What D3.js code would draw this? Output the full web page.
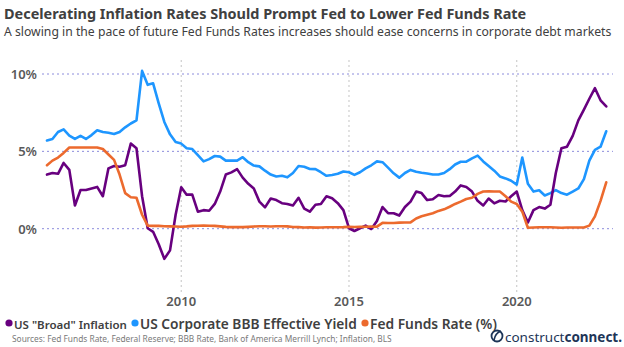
<!DOCTYPE html>
<html>
<head>
<meta charset="utf-8">
<script src="https://cdn.jsdelivr.net/npm/d3@7"></script>
<style>
  body { margin: 0; background: #fff; }
  svg { display: block; font-family: "Noto Sans", sans-serif; }
</style>
</head>
<body>
<div id="chart"></div>
<script>
// bi-monthly readings, Jan 2006 .. Sep 2022
const inflation = [
  3.5, 3.6, 3.55, 4.25, 3.8, 1.5,
  2.5, 2.5, 2.6, 2.7, 2.1, 3.9,
  4.05, 4.0, 4.1, 5.5, 5.2, 2.1,
  0.03, -0.2, -1.0, -1.95, -1.4, 0.9,
  2.68, 2.2, 2.2, 1.1, 1.2, 1.16,
  1.6, 2.4, 3.5, 3.64, 3.85, 3.3,
  2.9, 2.6, 1.75, 1.38, 1.95, 1.85,
  1.65, 1.6, 1.5, 2.0, 1.3, 1.1,
  1.55, 1.6, 2.1, 1.97, 1.65, 1.2,
  0.03, -0.15, 0.03, 0.2, -0.02, 0.5,
  1.4, 1.0, 1.0, 0.85, 1.4, 1.75,
  2.4, 2.3, 1.85, 1.9, 2.18, 2.1,
  2.12, 2.4, 2.8, 2.7, 2.4, 1.8,
  1.5, 1.95, 1.64, 1.81, 1.76, 2.1,
  2.4, 1.2, 0.4, 1.2, 1.4, 1.3,
  1.55, 3.6, 5.2, 5.3, 6.0, 7.0,
  7.7, 8.4, 9.08, 8.3, 7.9
];
const bbbYield = [
  5.7, 5.8, 6.25, 6.42, 6.02, 5.8,
  6.0, 5.8, 6.05, 6.36, 6.25, 6.2,
  6.12, 6.25, 6.55, 6.8, 7.0, 10.2,
  9.3, 9.4, 8.1, 6.9, 6.1, 5.6,
  5.5, 5.2, 5.15, 4.75, 4.35, 4.5,
  4.7, 4.66, 4.4, 4.4, 4.4, 4.62,
  4.3, 4.08, 4.03, 3.75, 3.5, 3.37,
  3.42, 3.32, 3.6, 4.05, 4.0, 3.86,
  3.85, 3.65, 3.42, 3.47, 3.55, 3.7,
  3.65, 3.48, 3.65, 3.9, 4.1, 4.35,
  4.3, 3.95, 3.58, 3.3, 3.6, 3.8,
  3.68, 3.62, 3.57, 3.5, 3.5, 3.6,
  3.85, 4.15, 4.33, 4.33, 4.55, 4.72,
  4.35, 4.05, 3.75, 3.38, 3.25, 3.1,
  2.85, 4.6, 2.9, 2.4, 2.48, 2.15,
  2.3, 2.5, 2.3, 2.2, 2.4, 2.6,
  3.2, 4.4, 5.1, 5.3, 6.3
];
const fedFunds = [
  4.1, 4.4, 4.6, 4.9, 5.25, 5.25,
  5.25, 5.25, 5.25, 5.25, 5.15, 4.8,
  4.45, 3.5, 2.3, 2.03, 2.0, 0.9,
  0.2, 0.18, 0.18, 0.16, 0.15, 0.14,
  0.13, 0.15, 0.18, 0.19, 0.2, 0.19,
  0.18, 0.15, 0.12, 0.1, 0.1, 0.1,
  0.12, 0.14, 0.16, 0.16, 0.14, 0.16,
  0.16, 0.15, 0.11, 0.1, 0.08, 0.09,
  0.07, 0.08, 0.09, 0.09, 0.09, 0.1,
  0.12, 0.11, 0.12, 0.13, 0.14, 0.13,
  0.38, 0.37, 0.37, 0.39, 0.4, 0.41,
  0.66, 0.8, 0.9, 1.0, 1.15, 1.25,
  1.42, 1.6, 1.75, 1.92, 2.0, 2.25,
  2.4, 2.42, 2.4, 2.4, 2.1, 1.75,
  1.6, 1.1, 0.06, 0.08, 0.09, 0.09,
  0.09, 0.08, 0.06, 0.08, 0.08, 0.08,
  0.08, 0.2, 0.8, 1.8, 3.0
];
const yTicks = [0, 5, 10];
const xTicks = [2010, 2015, 2020];
const seriesNames = ['US "Broad" Inflation', "US Corporate BBB Effective Yield", "Fed Funds Rate (%)"];
const seriesColors = ["#68007f", "#1e96ff", "#ec6a2e"];

const dates = d3.timeMonth.every(2).range(new Date(2006, 0, 1), new Date(2022, 9, 1));

const width = 624, height = 347;

let svg = d3.select("#chart").append("svg")
    .attr("width", width)
    .attr("height", height);

let x = d3.scaleTime()
    .domain([new Date(2006, 0, 1), new Date(2022, 9, 1)])
    .range([47, 609]);

let y = d3.scaleLinear()
    .domain([0, 10])
    .range([228.7, 74]);

// shrink/grow a text's font size so it spans w pixels
function fit(sel, w) {
    let fs = parseFloat(sel.attr("font-size"));
    let len = sel.node().getComputedTextLength();
    sel.attr("font-size", fs * w / len);
    return sel;
}

// title + subtitle
fit(svg.append("text")
    .attr("x", 4).attr("y", 19)
    .attr("font-size", 18).attr("font-weight", 700)
    .attr("fill", "#404040")
    .text("Decelerating Inflation Rates Should Prompt Fed to Lower Fed Funds Rate"), 523);

fit(svg.append("text")
    .attr("x", 4).attr("y", 36)
    .attr("font-size", 13)
    .attr("fill", "#404040")
    .text("A slowing in the pace of future Fed Funds Rates increases should ease concerns in corporate debt markets"), 608);

// vertical year gridlines
svg.append("g")
    .selectAll("line").data(xTicks).join("line")
    .attr("x1", d => x(new Date(d, 0, 1))).attr("x2", d => x(new Date(d, 0, 1)))
    .attr("y1", 60).attr("y2", 292)
    .attr("stroke", "#c4c4c4")
    .attr("stroke-dasharray", "2,3");

// horizontal gridlines
svg.append("g")
    .selectAll("line").data(yTicks).join("line")
    .attr("x1", 42).attr("x2", 613)
    .attr("y1", d => y(d)).attr("y2", d => y(d))
    .attr("stroke", "#8c8cdc")
    .attr("stroke-dasharray", "2,3");

// y labels
svg.append("g")
    .selectAll("text").data(yTicks).join("text")
    .attr("x", 37).attr("y", d => y(d) + 5)
    .attr("text-anchor", "end")
    .attr("font-size", 13).attr("font-weight", 600)
    .attr("fill", "#595959")
    .text(d => d + "%");

// x labels
svg.append("g")
    .selectAll("text").data(xTicks).join("text")
    .attr("x", d => x(new Date(d, 0, 1))).attr("y", 306)
    .attr("text-anchor", "middle")
    .attr("font-size", 13).attr("font-weight", 600)
    .attr("fill", "#595959")
    .text(d => d);

// lines
let line = d3.line()
    .x((d, i) => x(dates[i]))
    .y(d => y(d));

[bbbYield, inflation, fedFunds].forEach((vals, k) => {
    let c = [seriesColors[1], seriesColors[0], seriesColors[2]][k];
    svg.append("path")
        .datum(vals)
        .attr("d", line)
        .attr("fill", "none")
        .attr("stroke", c)
        .attr("stroke-width", 2.6)
        .attr("stroke-linejoin", "round")
        .attr("stroke-linecap", "round");
});

// legend
const legendStarts = [14, 140, 370];
const legendWidths = [113, 217, 127];
let legend = svg.append("g");
seriesNames.forEach((name, i) => {
    legend.append("circle")
        .attr("cx", legendStarts[i] - 5).attr("cy", 323)
        .attr("r", 3.6)
        .attr("fill", seriesColors[i]);
    fit(legend.append("text")
        .attr("x", legendStarts[i]).attr("y", 328.5)
        .attr("font-size", 14.5).attr("font-weight", 600)
        .attr("fill", "#404040")
        .text(name), legendWidths[i]);
});

// sources
fit(svg.append("text")
    .attr("x", 12).attr("y", 342)
    .attr("font-size", 9.5)
    .attr("fill", "#7a7a7a")
    .text("Sources: Fed Funds Rate, Federal Reserve; BBB Rate, Bank of America Merrill Lynch; Inflation, BLS"), 380);

// logo
let logo = svg.append("g").attr("fill", "#1d3557");
logo.append("circle")
    .attr("cx", 497).attr("cy", 336).attr("r", 5.5)
    .attr("fill", "none").attr("stroke", "#1d3557").attr("stroke-width", 1.8);
logo.append("path")
    .attr("d", "M494,340 C495,335 498,332 501,331")
    .attr("fill", "none").attr("stroke", "#1d3557").attr("stroke-width", 1.6);
let brand = logo.append("text")
    .attr("x", 505).attr("y", 342)
    .attr("font-size", 17);
brand.append("tspan").attr("font-weight", 400).text("construct");
brand.append("tspan").attr("font-weight", 700).text("connect.");
fit(brand, 117);
</script>
</body>
</html>
